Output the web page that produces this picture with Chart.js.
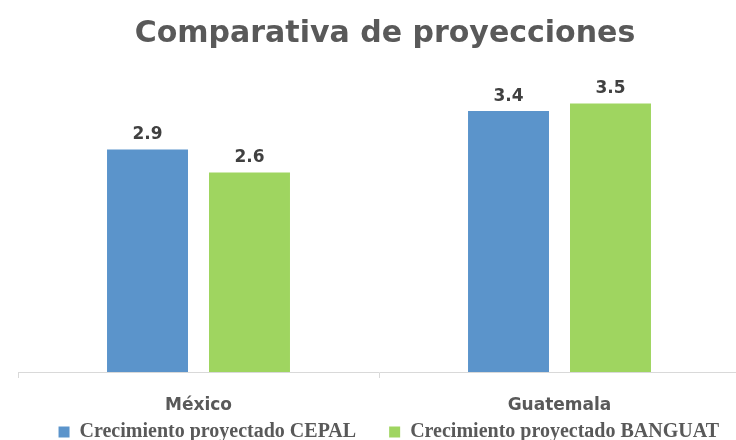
<!DOCTYPE html>
<html>
<head>
<meta charset="utf-8">
<script src="https://cdn.jsdelivr.net/npm/chart.js@4/dist/chart.umd.min.js"></script>
<style>
html,body{margin:0;padding:0;background:#fff;}
#wrap{width:736px;height:440px;overflow:hidden;position:relative;}
canvas{display:block;}
</style>
</head>
<body>
<div id="wrap"><canvas id="c" width="752" height="452"></canvas></div>
<script>
const categories = ['México', 'Guatemala'];
const seriesNames = ['Crecimiento proyectado CEPAL', 'Crecimiento proyectado BANGUAT'];
const cepal = [2.9, 3.4];
const banguat = [2.6, 3.5];
const titleText = 'Comparativa de proyecciones';

const valueLabels = {
  id: 'valueLabels',
  afterDatasetsDraw(chart) {
    const ctx = chart.ctx;
    ctx.save();
    ctx.font = 'bold 17px "DejaVu Sans"';
    ctx.fillStyle = '#404040';
    ctx.textAlign = 'center';
    ctx.textBaseline = 'alphabetic';
    chart.data.datasets.forEach((ds, i) => {
      chart.getDatasetMeta(i).data.forEach((bar, j) => {
        ctx.fillText(ds.data[j].toFixed(1), bar.x, bar.y - 10);
      });
    });
    ctx.restore();
  }
};

const categoryLabels = {
  id: 'categoryLabels',
  afterDraw(chart) {
    const ctx = chart.ctx;
    const xs = chart.scales.x;
    ctx.save();
    ctx.font = 'bold 17px "DejaVu Sans"';
    ctx.fillStyle = '#595959';
    ctx.textAlign = 'center';
    ctx.textBaseline = 'alphabetic';
    chart.data.labels.forEach((lab, i) => {
      ctx.fillText(lab, xs.getPixelForValue(i), xs.top + 38);
    });
    ctx.restore();
  }
};

new Chart(document.getElementById('c'), {
  type: 'bar',
  data: {
    labels: categories,
    datasets: [
      { label: seriesNames[0], data: cepal, backgroundColor: '#5B94CB', borderWidth: 0 },
      { label: seriesNames[1], data: banguat, backgroundColor: '#9FD560', borderWidth: 0 }
    ]
  },
  options: {
    responsive: false,
    devicePixelRatio: 1,
    animation: false,
    layout: { padding: { left: 18, right: 0, top: 16, bottom: 0 } },
    datasets: { bar: { categoryPercentage: 0.565, barPercentage: 0.794 } },
    plugins: {
      title: {
        display: true,
        text: titleText,
        color: '#595959',
        font: { family: '"DejaVu Sans"', size: 30, weight: 'bold', lineHeight: 1.2 },
        padding: { top: 0, bottom: 13 }
      },
      legend: {
        position: 'bottom',
        align: 'end',
        labels: {
          color: '#595959',
          font: { family: '"Liberation Serif"', size: 20, weight: 'bold' },
          boxWidth: 11,
          boxHeight: 11,
          padding: 33
        }
      },
      tooltip: { enabled: false }
    },
    scales: {
      x: {
        grid: { display: true, drawOnChartArea: false, drawTicks: true, tickLength: 6, color: '#d9d9d9', offset: true },
        border: { display: true, color: '#d9d9d9' },
        ticks: { display: false },
        afterFit(s) { s.height = 17; }
      },
      y: {
        position: 'right',
        min: 0,
        max: 4,
        grid: { display: false },
        border: { display: false },
        ticks: { display: false },
        afterFit(s) { s.width = 12; }
      }
    }
  },
  plugins: [valueLabels, categoryLabels]
});
</script>
</body>
</html>
